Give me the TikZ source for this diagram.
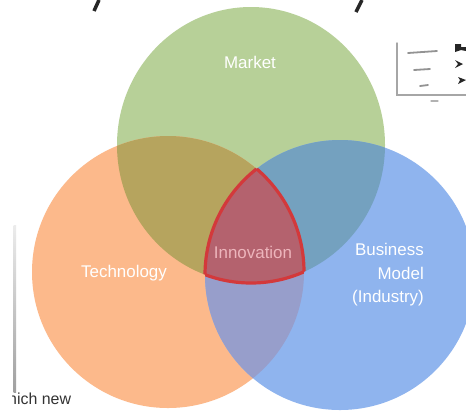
\documentclass[tikz,border=0pt]{standalone}
\usepackage{fontspec}
\setmainfont{Liberation Sans}
\definecolor{cgreen}{HTML}{B7D098}
\definecolor{corange}{HTML}{FCB98B}
\definecolor{cblue}{HTML}{8FB4EE}
\definecolor{colive}{HTML}{B6A45E}
\definecolor{cteal}{HTML}{74A1BF}
\definecolor{cpurple}{HTML}{979ECB}
\definecolor{ccenter}{HTML}{B4626E}
\definecolor{credline}{HTML}{D3393B}
\definecolor{cinno}{HTML}{EDB5BC}
\definecolor{cdark}{HTML}{333333}
\tikzset{
  lbl/.style={text=white, font=\fontsize{17}{22}\selectfont, inner sep=0pt},
  inset/.style={draw=gray!70, line width=1.4bp, line cap=round},
  icon/.style={fill=black!85, draw=none},
}
\def\circG{(251,145) ellipse [x radius=134, y radius=138]}
\def\circO{(168,272) circle (136)}
\def\circB{(340,275) circle (135)}
\begin{document}
\begin{tikzpicture}[x=1bp,y=-1bp]
\useasboundingbox[fill=white] (0,0) rectangle (466,412);
\begin{scope}
\clip (0,0) rectangle (466,412);
% base circles
\fill[cgreen] \circG;
\fill[corange] \circO;
\fill[cblue] \circB;
% pairwise overlaps
\begin{scope}\clip \circG; \fill[colive] \circO; \end{scope}
\begin{scope}\clip \circG; \fill[cteal] \circB; \end{scope}
\begin{scope}\clip \circO; \fill[cpurple] \circB; \end{scope}
% centre
\begin{scope}\clip \circG; \clip \circO; \fill[ccenter] \circB; \end{scope}
\begin{scope}\clip \circO; \clip \circB; \draw[credline, line width=3.2bp] \circG; \end{scope}
\begin{scope}\clip \circG; \clip \circB; \draw[credline, line width=3.2bp] \circO; \end{scope}
\begin{scope}\clip \circG; \clip \circO; \draw[credline, line width=3.2bp] \circB; \end{scope}
\end{scope}
% labels
\node[lbl] (market) at (250,62) {Market};
\node[lbl] (tech) at (124,273) {Technology};
\node[lbl, text=cinno] (inno) at (253,252) {Innovation};
\node[lbl, align=right, font=\fontsize{17}{23.5}\selectfont] (bm) at (388,275) {Business\\Model\\(Industry)};
% title descenders
\draw[black!85, line width=3.5bp] (99,0) -- (94,11);
\draw[black!85, line width=3.5bp] (362,0) -- (356,12);
% inset chart
\draw[inset] (397,43) -- (397,95) -- (466,95);
\draw[inset, draw=gray!85, line width=1.8bp] (408,53) -- (437,51);
\draw[inset, draw=gray!85, line width=1.8bp] (414,70) -- (430,69);
\draw[inset, draw=gray!85, line width=1.8bp] (420,86) -- (428,85);
\draw[inset, draw=gray!60, line width=1.2bp] (431,101) -- (438,101);
\fill[icon] (455,44) -- (461,44) -- (461,47) -- (466,47) -- (466,51) -- (461,50) -- (455,52) -- cycle;
\fill[icon] (455,60) -- (463,64) -- (455,68) -- (458,64) -- cycle;
\fill[icon] (458,77) -- (466,80) -- (458,84) -- (460,80) -- cycle;
% bottom-left fragments
\shade[top color=gray!15, bottom color=gray!75] (13.5,225) rectangle (16,392);
\begin{scope}
\clip (12,385) rectangle (120,412);
\node[anchor=base west, inner sep=0pt, text=cdark, font=\fontsize{16}{19}\selectfont] (frag) at (8,404) {hich new};
\end{scope}
\end{tikzpicture}
\end{document}
